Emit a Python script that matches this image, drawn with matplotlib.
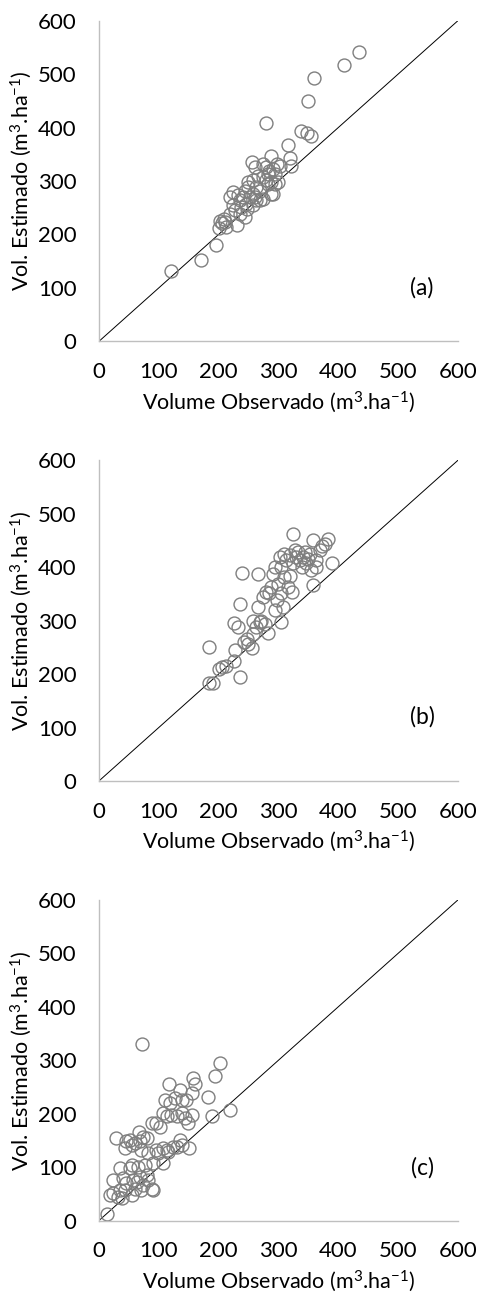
import matplotlib.pyplot as plt

plt.rcParams['font.family'] = ['Lato', 'DejaVu Sans']
plt.rcParams['mathtext.fontset'] = 'custom'
plt.rcParams['mathtext.rm'] = 'Lato'
plt.rcParams['mathtext.it'] = 'Lato'

# ---- painel (a) ----
obs_a = [120, 171, 195, 200, 280, 316, 337, 349, 347, 354, 359, 410, 434, 319, 321,
         219, 224, 209, 205, 213, 230, 227, 235, 244, 245, 235, 252, 255, 261, 258,
         249, 263, 269, 258, 266, 274, 280, 287, 283, 291, 297, 302, 294, 288, 283,
         274, 288, 294, 300, 269, 258, 247, 238, 249, 244, 260, 280, 285, 274, 263,
         241, 233, 224, 219, 210, 202, 291]
est_a = [132, 153, 181, 212, 409, 368, 394, 449, 390, 385, 492, 518, 542, 343, 328,
         271, 279, 229, 221, 214, 217, 245, 239, 232, 257, 264, 270, 335, 326, 301,
         298, 288, 282, 276, 310, 307, 326, 346, 313, 323, 332, 329, 313, 298, 295,
         267, 276, 294, 298, 264, 256, 248, 251, 288, 282, 270, 301, 319, 332, 264,
         270, 273, 255, 239, 223, 226, 276]

# ---- painel (b) ----
obs_b = [184, 184, 191, 200, 205, 213, 225, 235, 227, 225, 232, 236, 239, 242, 247,
         249, 255, 258, 263, 269, 271, 277, 266, 266, 274, 280, 283, 285, 294, 297,
         305, 308, 291, 294, 302, 305, 310, 316, 322, 319, 313, 324, 324, 333, 336,
         341, 346, 352, 355, 358, 358, 363, 369, 372, 377, 383, 390, 330, 339, 344,
         327, 319, 310, 349, 363, 288, 299, 305, 258]
est_b = [250, 184, 184, 210, 213, 215, 225, 195, 245, 296, 288, 332, 389, 260, 266,
         257, 248, 275, 288, 297, 300, 294, 388, 325, 344, 354, 276, 351, 319, 338,
         298, 326, 388, 400, 419, 400, 381, 363, 354, 384, 413, 462, 407, 429, 413,
         419, 407, 425, 394, 450, 366, 413, 432, 439, 444, 453, 407, 419, 400, 429,
         432, 423, 425, 416, 400, 363, 369, 351, 300]

# ---- painel (c) ----
obs_c = [13, 72, 203, 194, 219, 189, 182, 157, 160, 155, 150, 117, 135, 138, 127,
         110, 118, 107, 113, 121, 130, 138, 144, 149, 155, 146, 135, 124, 113, 107,
         116, 107, 99, 96, 88, 102, 67, 68, 60, 55, 46, 43, 52, 29, 24,
         18, 24, 32, 35, 35, 41, 43, 52, 55, 60, 57, 63, 68, 74, 77,
         80, 82, 88, 91, 71, 55, 38, 46, 65, 74, 80, 71, 82, 91, 96,
         138, 130]
est_c = [12, 330, 294, 271, 206, 196, 231, 266, 256, 239, 135, 256, 245, 226, 229,
         225, 220, 201, 195, 198, 195, 201, 192, 182, 198, 226, 151, 138, 132, 135,
         129, 107, 126, 182, 182, 176, 165, 148, 145, 142, 148, 135, 151, 155, 51,
         48, 76, 45, 57, 98, 79, 57, 98, 104, 60, 76, 73, 82, 67, 104,
         85, 76, 60, 57, 57, 48, 42, 70, 101, 157, 154, 132, 126, 107, 132,
         142, 138]

paineis = [(obs_a, est_a, '(a)', 100), (obs_b, est_b, '(b)', 120), (obs_c, est_c, '(c)', 98)]
bottoms = [0.736, 0.396, 0.056]

fig = plt.figure(figsize=(4.78, 12.93), dpi=100)
for (obs, est, letra, ylet), b in zip(paineis, bottoms):
    ax = fig.add_axes([0.207, b, 0.751, 0.248])
    ax.plot([0, 600], [0, 600], color='black', lw=0.7, zorder=1)
    ax.plot(obs, est, 'o', ms=9.3, mfc='none', mec='#7F7F7F', mew=1.0, zorder=2)
    ax.set_xlim(0, 600)
    ax.set_ylim(0, 600)
    ax.set_xticks(range(0, 601, 100))
    ax.set_yticks(range(0, 601, 100))
    for s in ['top', 'right']:
        ax.spines[s].set_visible(False)
    for s in ['left', 'bottom']:
        ax.spines[s].set_color('#BFBFBF')
        ax.spines[s].set_linewidth(1.0)
    ax.tick_params(length=0, labelsize=16, colors='black')
    ax.tick_params(axis='x', pad=15)
    ax.tick_params(axis='y', pad=16)
    ax.set_xlabel('Volume Observado (m$^{3}$.ha$^{-1}$)', fontsize=15.5, labelpad=5)
    ax.set_ylabel('Vol. Estimado (m$^{3}$.ha$^{-1}$)', fontsize=15.5, labelpad=3)
    ax.text(540, ylet, letra, fontsize=16.5, ha='center', va='center')

plt.savefig('out.png', dpi=100)
